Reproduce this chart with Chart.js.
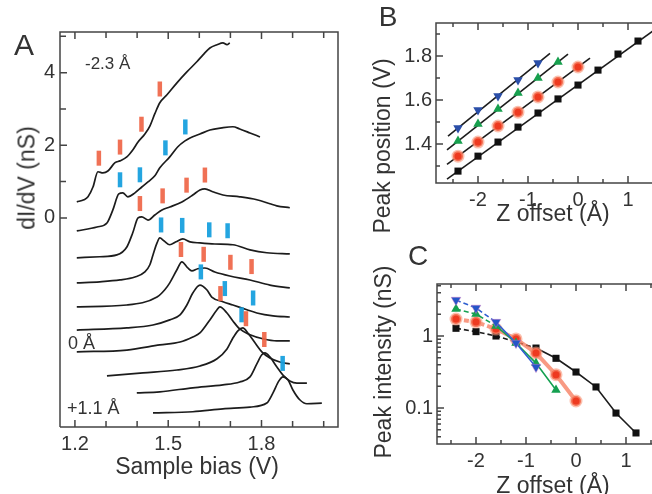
<!DOCTYPE html>
<html lang="en">
  <head>
    <meta charset="UTF-8" />
    <title>Peak shifts</title>
    <style>
      body { margin: 0; background: #fff; }
      #wrap { position: relative; width: 652px; height: 494px; overflow: hidden; font-family: "Liberation Sans", Arial, sans-serif; color: #333; }
      canvas { position: absolute; }
      .t { position: absolute; white-space: nowrap; line-height: 1; transform: translate(-50%, -50%); }
      .l { position: absolute; white-space: nowrap; line-height: 1; transform: translateY(-50%); }
      .r { transform: translate(-50%, -50%) rotate(-90deg); }
    </style>
  </head>
  <body>
    <div id="wrap">
      <canvas id="chartA" width="345" height="494" style="left:0;top:0"></canvas>
      <canvas id="chartB" width="290" height="240" style="left:370px;top:0"></canvas>
      <canvas id="chartC" width="290" height="254" style="left:370px;top:240px"></canvas>

      <div class="t" style="left:24px;top:45px;font-size:30px">A</div>
      <div class="t" style="left:388px;top:17px;font-size:28px">B</div>
      <div class="t" style="left:418px;top:256px;font-size:28px">C</div>
      <div class="l" style="left:85px;top:63px;font-size:17px">-2.3 Å</div>
      <div class="l" style="left:68px;top:343px;font-size:18px">0 Å</div>
      <div class="l" style="left:67px;top:408px;font-size:18px">+1.1 Å</div>
      <div class="t r" style="left:27px;top:178px;font-size:23px">dI/dV (nS)</div>
      <div class="t" style="left:197px;top:466px;font-size:23px">Sample bias (V)</div>
      <div class="t r" style="left:382px;top:146px;font-size:23px">Peak position (V)</div>
      <div class="t" style="left:553px;top:213px;font-size:23px">Z offset (Å)</div>
      <div class="t r" style="left:383px;top:362px;font-size:23px">Peak intensity (nS)</div>
      <div class="t" style="left:553px;top:485px;font-size:23px">Z offset (Å)</div>
    </div>

    <script src="https://cdn.jsdelivr.net/npm/chart.js@4.4.1/dist/chart.umd.min.js"></script>
    <script>
      // spectra, [bias V, dI/dV nS] with the vertical offsets already in
      const spec1 = [[1.206,0.44],[1.229,0.50],[1.242,0.58],[1.258,0.85],[1.274,1.27],[1.290,1.24],[1.306,1.29],[1.329,1.52],[1.345,1.57],[1.367,1.68],[1.386,1.87],[1.403,2.09],[1.425,2.31],[1.441,2.53],[1.457,2.87],[1.473,3.17],[1.496,3.39],[1.528,3.72],[1.560,4.02],[1.592,4.30],[1.612,4.49],[1.634,4.68],[1.657,4.77],[1.676,4.82],[1.689,4.77],[1.698,4.82]];
      const spec2 = [[1.206,-0.36],[1.271,-0.25],[1.303,-0.14],[1.322,0.22],[1.341,0.66],[1.354,0.69],[1.370,0.58],[1.393,0.69],[1.415,0.85],[1.435,0.99],[1.457,1.16],[1.473,1.38],[1.505,1.68],[1.531,1.96],[1.554,2.12],[1.570,2.20],[1.602,2.31],[1.634,2.42],[1.673,2.48],[1.708,2.51],[1.730,2.45],[1.763,2.34],[1.795,2.23]];
      const spec3 = [[1.206,-1.10],[1.280,-1.07],[1.335,-1.02],[1.367,-0.80],[1.386,-0.41],[1.403,0],[1.415,0.03],[1.435,-0.06],[1.457,0.08],[1.480,0.22],[1.505,0.30],[1.544,0.44],[1.579,0.63],[1.602,0.77],[1.618,0.80],[1.643,0.72],[1.676,0.63],[1.730,0.58],[1.785,0.50],[1.827,0.39],[1.849,0.33],[1.891,0.28]];
      const spec4 = [[1.206,-1.79],[1.280,-1.76],[1.345,-1.71],[1.393,-1.63],[1.425,-1.49],[1.441,-1.29],[1.451,-1.02],[1.464,-0.69],[1.473,-0.55],[1.486,-0.63],[1.505,-0.74],[1.525,-0.66],[1.547,-0.58],[1.570,-0.66],[1.602,-0.69],[1.650,-0.72],[1.708,-0.74],[1.763,-0.88],[1.817,-0.96],[1.891,-0.99]];
      const spec5 = [[1.206,-2.45],[1.367,-2.40],[1.464,-2.18],[1.489,-1.98],[1.505,-1.79],[1.528,-1.43],[1.544,-1.21],[1.563,-1.38],[1.576,-1.46],[1.595,-1.40],[1.618,-1.38],[1.650,-1.49],[1.698,-1.60],[1.763,-1.71],[1.827,-1.85],[1.891,-1.93]];
      const spec6 = [[1.206,-3.09],[1.367,-3.03],[1.451,-2.95],[1.505,-2.81],[1.538,-2.67],[1.560,-2.40],[1.579,-2.07],[1.602,-1.85],[1.624,-1.98],[1.640,-2.18],[1.676,-2.31],[1.708,-2.40],[1.753,-2.53],[1.785,-2.62],[1.837,-2.70],[1.891,-2.73]];
      const spec7 = [[1.206,-3.69],[1.367,-3.64],[1.473,-3.50],[1.538,-3.42],[1.579,-3.28],[1.602,-3.17],[1.634,-2.81],[1.657,-2.53],[1.666,-2.45],[1.689,-2.62],[1.708,-2.84],[1.730,-3.06],[1.763,-3.22],[1.804,-3.33],[1.849,-3.39],[1.891,-3.39]];
      const spec8 = [[1.303,-4.35],[1.419,-4.27],[1.528,-4.19],[1.602,-4.08],[1.657,-3.88],[1.689,-3.61],[1.708,-3.31],[1.724,-3.11],[1.740,-3.03],[1.756,-3.17],[1.779,-3.44],[1.801,-3.69],[1.827,-3.86],[1.859,-3.97],[1.891,-4.02]];
      const spec9 = [[1.399,-4.82],[1.473,-4.79],[1.579,-4.68],[1.676,-4.60],[1.730,-4.52],[1.763,-4.38],[1.785,-4.02],[1.801,-3.77],[1.811,-3.72],[1.827,-3.83],[1.849,-4.10],[1.869,-4.33],[1.891,-4.49],[1.914,-4.55],[1.946,-4.55]];
      const spec10 = [[1.451,-5.37],[1.579,-5.34],[1.676,-5.26],[1.763,-5.21],[1.817,-5.10],[1.837,-4.82],[1.856,-4.49],[1.869,-4.38],[1.885,-4.46],[1.901,-4.74],[1.923,-5.01],[1.946,-5.12],[1.994,-5.10]];

      // peak positions (V) and intensities (nS) against tip offset
      const zOffset = [-2.4, -2.0, -1.6, -1.2, -0.8, -0.4, 0, 0.4, 0.8, 1.2];
      const peakBlack = [1.277, 1.345, 1.409, 1.477, 1.541, 1.605, 1.668, 1.736, 1.809, 1.868];
      const peakRed = [1.345, 1.409, 1.482, 1.545, 1.614, 1.682, 1.75];
      const peakGreen = [1.414, 1.491, 1.559, 1.632, 1.70, 1.773];
      const peakBlue = [1.473, 1.555, 1.618, 1.691, 1.768];
      const intBlack = [1.28, 1.15, 1.0, 0.83, 0.68, 0.49, 0.316, 0.196, 0.085, 0.045];
      const intRed = [1.72, 1.56, 1.25, 0.91, 0.58, 0.29, 0.125];
      const intGreen = [2.37, 2.02, 1.38, 0.80, 0.42, 0.178];
      const intBlue = [3.16, 2.45, 1.56, 0.80, 0.37];

      const fitBlack = [[-2.62, 1.241], [1.6, 1.93]];
      const fitRed = [[-2.62, 1.308], [0.24, 1.79]];
      const fitGreen = [[-2.62, 1.374], [-0.2, 1.809]];
      const fitBlue = [[-2.6, 1.436], [-0.56, 1.812]];

      // ticks and labels
      const biasTicks = [1.2, 1.3, 1.4, 1.5, 1.6, 1.7, 1.8, 1.9, 2.0];
      const biasLabels = [1.2, 1.5, 1.8];
      const didvTicks = [0, 1, 2, 3, 4, 5];
      const didvLabels = [0, 2, 4];
      const zTicks = [-2.5, -2, -1.5, -1, -0.5, 0, 0.5, 1, 1.5];
      const zLabels = [-2, -1, 0, 1];
      const posTicks = [1.3, 1.4, 1.5, 1.6, 1.7, 1.8, 1.9];
      const posLabels = [1.4, 1.6, 1.8];
      const intTicks = [0.04, 0.05, 0.06, 0.07, 0.08, 0.09, 0.1, 0.2, 0.3, 0.4, 0.5, 0.6, 0.7, 0.8, 0.9, 1, 2, 3, 4, 5];
      const intLabels = [0.1, 1];

      const font = '"Liberation Sans", Arial, sans-serif';
      const ink = "#444";
      const toXY = arr => arr.map(p => ({ x: p[0], y: p[1] }));
      const withZ = vals => vals.map((v, i) => ({ x: zOffset[i], y: v }));

      // frame and inward tick marks, drawn as plain line datasets on the chart's own scales
      // o: ranges, plot size in px (w, h), tick lists, tick lengths in px, closed = draw right side too
      function frameSets(o) {
        const dx = px => px * (o.xmax - o.xmin) / o.w;
        const yIn = (y, px) => o.log ? y * Math.pow(o.ymax / o.ymin, px / o.h) : y + px * (o.ymax - o.ymin) / o.h;
        const segs = [];
        o.xTicks.forEach(v => {
          const len = o.xLabels.includes(v) ? o.major : o.minor;
          segs.push({ x: v, y: o.ymin }, { x: v, y: yIn(o.ymin, len) }, { x: v, y: null });
          segs.push({ x: v, y: o.ymax }, { x: v, y: yIn(o.ymax, -len) }, { x: v, y: null });
        });
        o.yTicks.forEach(v => {
          const len = o.yLabels.includes(v) ? o.major : o.minor;
          segs.push({ x: o.xmin, y: v }, { x: o.xmin + dx(len), y: v }, { x: o.xmin, y: null });
        });
        const box = o.closed
          ? [{ x: o.xmin, y: o.ymin }, { x: o.xmax, y: o.ymin }, { x: o.xmax, y: o.ymax }, { x: o.xmin, y: o.ymax }, { x: o.xmin, y: o.ymin }]
          : [{ x: o.xmax, y: o.ymax }, { x: o.xmin, y: o.ymax }, { x: o.xmin, y: o.ymin }, { x: o.xmax, y: o.ymin }];
        const style = { showLine: true, order: -1, clip: false, pointRadius: 0, borderColor: ink, borderWidth: 1.5, spanGaps: false, borderCapStyle: "butt", borderJoinStyle: "miter" };
        return [Object.assign({ data: segs }, style), Object.assign({ data: box }, style)];
      }

      function axis(min, max, tickVals, labelVals, fmt, fit, pad, extra) {
        return Object.assign({
          min: min, max: max,
          afterBuildTicks: s => { s.ticks = tickVals.map(v => ({ value: v })); },
          afterFit: fit,
          grid: { display: false, drawTicks: false },
          border: { display: false },
          ticks: {
            autoSkip: false, maxRotation: 0, padding: pad, color: "#333",
            font: { family: font, size: 20 },
            callback: v => labelVals.includes(v) ? fmt(v) : ""
          }
        }, extra || {});
      }

      const baseOpts = pad => ({
        responsive: false,
        animation: false,
        events: [],
        layout: { padding: pad, autoPadding: false },
        plugins: { legend: { display: false }, tooltip: { enabled: false } }
      });

      // ---------- A : spectra ----------
      const spectra = [spec1, spec2, spec3, spec4, spec5, spec6, spec7, spec8, spec9, spec10];

      function valueAt(curve, v) {
        for (let k = 1; k < curve.length; k++) {
          if (curve[k][0] >= v) {
            const f = (v - curve[k - 1][0]) / (curve[k][0] - curve[k - 1][0]);
            return curve[k - 1][1] + f * (curve[k][1] - curve[k - 1][1]);
          }
        }
        return curve[curve.length - 1][1];
      }

      // peak markers sit a little above each spectrum, colour alternates per spectrum
      const tickLift = 0.38;
      const marksRed = [], marksBlue = [];
      spectra.forEach((sp, i) => {
        [peakBlack[i], peakRed[i], peakGreen[i], peakBlue[i]]
          .filter(v => v !== undefined)
          .forEach(v => (i % 2 ? marksBlue : marksRed).push({ x: v, y: valueAt(sp, v) + tickLift }));
      });

      const markSet = (data, color) => ({
        data: data, showLine: false, order: 0,
        pointStyle: "line", pointRotation: 90, pointRadius: 7.5,
        pointBorderWidth: 4.5, pointBorderColor: color, pointBackgroundColor: color
      });

      new Chart(document.getElementById("chartA"), {
        type: "scatter",
        data: {
          datasets: [markSet(marksRed, "rgba(238,98,66,0.9)"), markSet(marksBlue, "rgba(24,160,222,0.95)")]
            .concat(spectra.map(sp => ({
              data: toXY(sp), showLine: true, order: 1,
              borderColor: "#1c1c1c", borderWidth: 1.7, pointRadius: 0,
              cubicInterpolationMode: "monotone"
            })))
            .concat(frameSets({ xmin: 1.152, xmax: 2.046, ymin: -5.76, ymax: 5.12, w: 278, h: 395,
              xTicks: biasTicks, xLabels: biasLabels, yTicks: didvTicks, yLabels: didvLabels, major: 7, minor: 6, closed: true }))
        },
        options: Object.assign(baseOpts({ top: 32, right: 7, left: 0, bottom: 0 }), {
          scales: {
            x: axis(1.152, 2.046, biasTicks, biasLabels, v => v.toFixed(1), s => { s.height = 67; }, 5),
            y: axis(-5.76, 5.12, didvTicks, didvLabels, v => String(v), s => { s.width = 60; }, 5)
          }
        })
      });

      // ---------- B : peak position ----------
      const fitSet = pts => ({ data: toXY(pts), showLine: true, order: 1, borderColor: "#1c1c1c", borderWidth: 1.6, pointRadius: 0 });

      new Chart(document.getElementById("chartB"), {
        type: "scatter",
        data: {
          datasets: [
            { data: withZ(peakBlack), order: 0, pointStyle: "rect", pointRadius: 5, pointBackgroundColor: "#111", pointBorderColor: "#111", pointBorderWidth: 0 },
            { data: withZ(peakRed), order: 0, pointStyle: "circle", pointRadius: 5, pointBackgroundColor: "#ee3a20", pointBorderColor: "rgba(248,150,120,0.6)", pointBorderWidth: 3 },
            { data: withZ(peakGreen), order: 0, pointStyle: "triangle", pointRadius: 5.5, pointBackgroundColor: "#17a04e", pointBorderColor: "#17a04e", pointBorderWidth: 0 },
            { data: withZ(peakBlue), order: 0, pointStyle: "triangle", pointRotation: 180, pointRadius: 5.5, pointBackgroundColor: "#2a4ea8", pointBorderColor: "#2a4ea8", pointBorderWidth: 0 },
            fitSet(fitBlack), fitSet(fitRed), fitSet(fitGreen), fitSet(fitBlue)
          ].concat(frameSets({ xmin: -2.84, xmax: 1.54, ymin: 1.223, ymax: 1.95, w: 219, h: 160,
            xTicks: zTicks, xLabels: zLabels, yTicks: posTicks, yLabels: posLabels, major: 7, minor: 4, closed: false }))
        },
        options: Object.assign(baseOpts({ top: 23, right: 5, left: 0, bottom: 0 }), {
          scales: {
            x: axis(-2.84, 1.54, zTicks, zLabels, v => String(v), s => { s.height = 57; }, 5),
            y: axis(1.223, 1.95, posTicks, posLabels, v => v.toFixed(1), s => { s.width = 66; }, 4)
          }
        })
      });

      // ---------- C : peak intensity ----------
      const dashUpTo = lim => ({ borderDash: c => (c.p1.parsed.x <= lim + 1e-6 ? [5, 3] : undefined) });

      new Chart(document.getElementById("chartC"), {
        type: "scatter",
        data: {
          datasets: [
            { data: withZ(intBlue), showLine: true, order: 0, borderColor: "#2f5fd0", borderWidth: 1.6, segment: dashUpTo(-1.6),
              pointStyle: "triangle", pointRotation: 180, pointRadius: 5.5, pointBackgroundColor: "#2456c8", pointBorderColor: "rgba(200,120,200,0.5)", pointBorderWidth: 1 },
            { data: withZ(intGreen), showLine: true, order: 1, borderColor: "#14a050", borderWidth: 1.6, segment: dashUpTo(-1.6),
              pointStyle: "triangle", pointRadius: 5.5, pointBackgroundColor: "#14a050", pointBorderColor: "#14a050", pointBorderWidth: 0 },
            { data: withZ(intRed), showLine: true, order: 2, borderColor: "rgba(246,120,90,0.75)", borderWidth: 4, segment: dashUpTo(-1.6),
              pointStyle: "circle", pointRadius: 5, pointBackgroundColor: "#ee3a20", pointBorderColor: "rgba(248,150,120,0.6)", pointBorderWidth: 3 },
            { data: withZ(intBlack), showLine: true, order: 3, borderColor: "#1c1c1c", borderWidth: 1.6, segment: dashUpTo(-0.8),
              pointStyle: "rect", pointRadius: 5, pointBackgroundColor: "#111", pointBorderColor: "#111", pointBorderWidth: 0 }
          ].concat(frameSets({ xmin: -2.78, xmax: 1.58, ymin: 0.0316, ymax: 5.28, w: 218, h: 160, log: true,
            xTicks: zTicks, xLabels: zLabels, yTicks: intTicks, yLabels: intLabels, major: 7, minor: 4, closed: false }))
        },
        options: Object.assign(baseOpts({ top: 44, right: 5, left: 0, bottom: 0 }), {
          scales: {
            x: axis(-2.78, 1.58, zTicks, zLabels, v => String(v), s => { s.height = 50; }, 5),
            y: axis(0.0316, 5.28, intTicks, intLabels, v => String(v), s => { s.width = 67; }, 4, { type: "logarithmic" })
          }
        })
      });
    </script>
  </body>
</html>
